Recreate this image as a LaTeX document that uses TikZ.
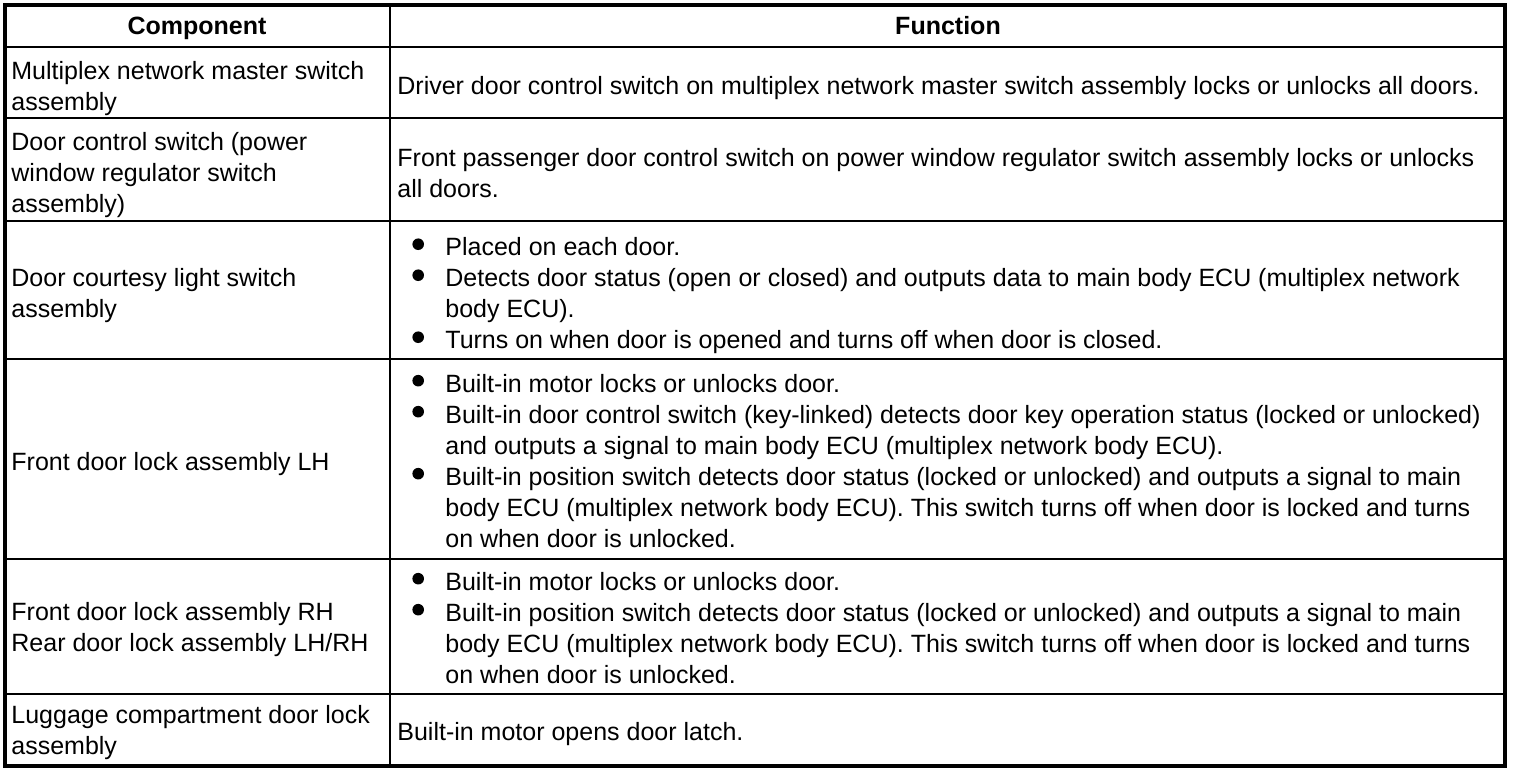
\documentclass[tikz,border=0pt]{standalone}
\usepackage{fontspec}
\setmainfont{Liberation Sans}
\newcommand{\bmark}{\makebox[24pt][l]{\hspace{7.5pt}\tikz[baseline=-0.47em]\fill (0,0) circle (2.9pt);}}
\newcommand{\bcont}{\hspace*{24pt}}
\begin{document}
\begin{tikzpicture}[x=0.5pt,y=-0.5pt,
    cell/.style={anchor=west,align=left,inner sep=0pt,font=\fontsize{12.5pt}{15.5pt}\selectfont},
    head/.style={anchor=base,inner sep=0pt,font=\fontsize{12.5pt}{15.5pt}\selectfont\bfseries},
    outer/.style={line width=2pt},
    inner/.style={line width=1pt}]
            \useasboundingbox (0,0) rectangle (1520,774);
            \draw[outer] (4.7,4.7) rectangle (1505.3,766.3);
            \draw[inner] (390,4.7) -- (390,766.3);
            \foreach \y in {47.5,118,221.3,358.7,558.7,694}
                \draw[inner] (4.7,\y) -- (1505.3,\y);
            \node[head] (comphead) at (197,35) {Component};
            \node[head] (funchead) at (948,35) {Function};
            \node[cell] (comp1) at (11,88.5) {Multiplex network master switch\\assembly};
            \node[cell] (func1) at (397,88) {Driver door control switch on multiplex network master switch assembly locks or unlocks all doors.};
            \node[cell] (comp2) at (11,175.5) {Door control switch (power\\window regulator switch\\assembly)};
            \node[cell] (func2) at (397,173) {Front passenger door control switch on power window regulator switch assembly locks or unlocks\\all doors.};
            \node[cell] (comp3) at (11,295.5) {Door courtesy light switch\\assembly};
            \node[cell] (func3) at (397,296) {\bmark Placed on each door.\\
                \bmark Detects door status (open or closed) and outputs data to main body ECU (multiplex network\\
                \bcont body ECU).\\
                \bmark Turns on when door is opened and turns off when door is closed.};
            \node[cell] (comp4) at (11,463.7) {Front door lock assembly LH};
            \node[cell] (func4) at (397,461) {\bmark Built-in motor locks or unlocks door.\\
                \bmark Built-in door control switch (key-linked) detects door key operation status (locked or unlocked)\\
                \bcont and outputs a signal to main body ECU (multiplex network body ECU).\\
                \bmark Built-in position switch detects door status (locked or unlocked) and outputs a signal to main\\
                \bcont body ECU (multiplex network body ECU). This switch turns off when door is locked and turns\\
                \bcont on when door is unlocked.};
            \node[cell] (comp5) at (11,629.5) {Front door lock assembly RH\\Rear door lock assembly LH/RH};
            \node[cell] (func5) at (397,628) {\bmark Built-in motor locks or unlocks door.\\
                \bmark Built-in position switch detects door status (locked or unlocked) and outputs a signal to main\\
                \bcont body ECU (multiplex network body ECU). This switch turns off when door is locked and turns\\
                \bcont on when door is unlocked.};
            \node[cell] (comp6) at (11,733) {Luggage compartment door lock\\assembly};
            \node[cell] (func6) at (397,734) {Built-in motor opens door latch.};
        \end{tikzpicture}
\end{document}
